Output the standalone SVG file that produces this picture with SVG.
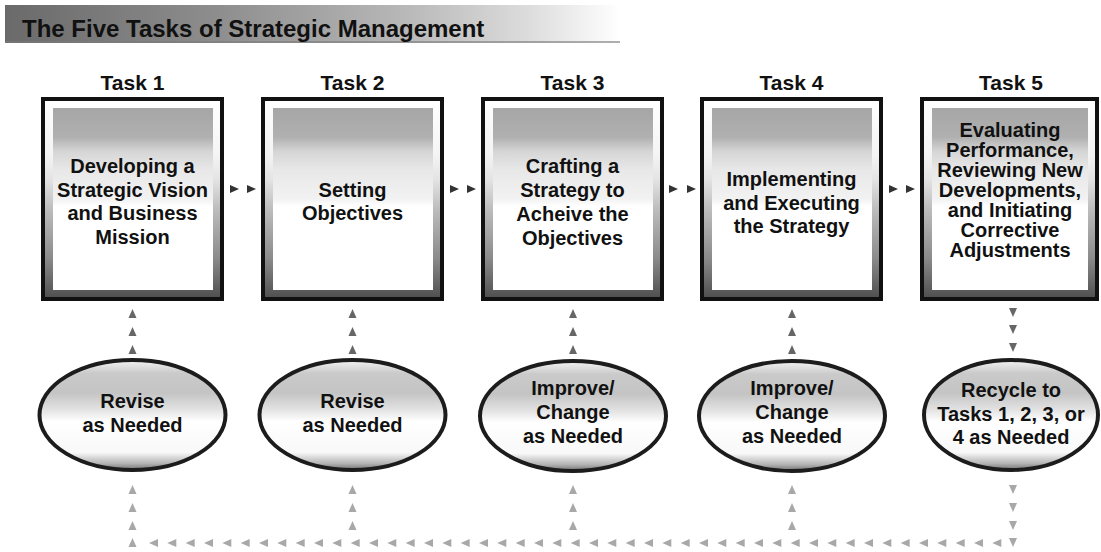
<svg xmlns="http://www.w3.org/2000/svg" width="1101" height="552" viewBox="0 0 1101 552">
<defs>
  <linearGradient id="bar" x1="0" y1="0" x2="1" y2="0">
    <stop offset="0" stop-color="#6a6a6a"/>
    <stop offset="0.35" stop-color="#8e8e8e"/>
    <stop offset="0.65" stop-color="#b8b8b8"/>
    <stop offset="0.85" stop-color="#dcdcdc"/>
    <stop offset="1" stop-color="#ffffff"/>
  </linearGradient>
  <linearGradient id="frame" x1="0" y1="0" x2="0" y2="1">
    <stop offset="0" stop-color="#ffffff"/>
    <stop offset="0.28" stop-color="#f4f4f4"/>
    <stop offset="0.4" stop-color="#e4e4e4"/>
    <stop offset="0.55" stop-color="#bdbdbd"/>
    <stop offset="0.8" stop-color="#8a8a8a"/>
    <stop offset="1" stop-color="#4e4e4e"/>
  </linearGradient>
  <linearGradient id="inner" x1="0" y1="0" x2="0" y2="1">
    <stop offset="0" stop-color="#a6a6a6"/>
    <stop offset="0.16" stop-color="#b0b0b0"/>
    <stop offset="0.24" stop-color="#d6d6d6"/>
    <stop offset="0.34" stop-color="#e8e8e8"/>
    <stop offset="0.5" stop-color="#f2f2f2"/>
    <stop offset="0.54" stop-color="#ffffff"/>
    <stop offset="1" stop-color="#ffffff"/>
  </linearGradient>
  <linearGradient id="oval" x1="0" y1="0" x2="0" y2="1">
    <stop offset="0" stop-color="#f4f4f4"/>
    <stop offset="0.12" stop-color="#cacaca"/>
    <stop offset="0.3" stop-color="#c4c4c4"/>
    <stop offset="0.45" stop-color="#e2e2e2"/>
    <stop offset="0.56" stop-color="#ffffff"/>
    <stop offset="0.84" stop-color="#f8f8f8"/>
    <stop offset="0.94" stop-color="#b4b4b4"/>
    <stop offset="1" stop-color="#707070"/>
  </linearGradient>
  <path id="up" d="M0,-5 L4,4 L-4,4 Z"/>
  <path id="down" d="M-4,-4 L4,-4 L0,5 Z"/>
  <path id="right" d="M-4,-4 L5,0 L-4,4 Z"/>
  <path id="left" d="M5,-4 L-4,0 L5,4 Z"/>
</defs>
<style>
  text { font-family: "Liberation Sans", Arial, sans-serif; font-weight: bold; fill: #111; text-anchor: middle; }
  .title { font-size: 24px; text-anchor: start; }
  .task { font-size: 21px; }
  .lbl { font-size: 20px; }
  .outer { fill: url(#frame); stroke: #111; stroke-width: 4; }
  .inner { fill: url(#inner); }
  .oval { fill: url(#oval); stroke: #1c1c1c; stroke-width: 4; }
  .dk { fill: #333; }
  .md { fill: #666; }
  .lt { fill: #a8a8a8; }
</style>
<rect width="1101" height="552" fill="#ffffff"/>

<g id="title">
  <rect x="5" y="5" width="615" height="38" fill="url(#bar)"/>
  <rect x="5" y="41" width="615" height="2" fill="#7a7a7a" opacity="0.6"/>
  <text class="title" x="22" y="37">The Five Tasks of Strategic Management</text>
</g>

<g id="task1">
  <text class="task" x="132.5" y="90">Task 1</text>
  <rect class="outer" x="43" y="99" width="179" height="200"/>
  <rect class="inner" x="53" y="108" width="160" height="182"/>
  <text class="lbl" x="132.5" y="173">Developing a</text>
  <text class="lbl" x="132.5" y="196.5">Strategic Vision</text>
  <text class="lbl" x="132.5" y="220">and Business</text>
  <text class="lbl" x="132.5" y="243.5">Mission</text>
</g>

<g id="task2">
  <text class="task" x="352.5" y="90">Task 2</text>
  <rect class="outer" x="263" y="99" width="179" height="200"/>
  <rect class="inner" x="273" y="108" width="160" height="182"/>
  <text class="lbl" x="352.5" y="197">Setting</text>
  <text class="lbl" x="352.5" y="220">Objectives</text>
</g>

<g id="task3">
  <text class="task" x="572.5" y="90">Task 3</text>
  <rect class="outer" x="483" y="99" width="179" height="200"/>
  <rect class="inner" x="493" y="108" width="160" height="182"/>
  <text class="lbl" x="572.5" y="173">Crafting a</text>
  <text class="lbl" x="572.5" y="197">Strategy to</text>
  <text class="lbl" x="572.5" y="221">Acheive the</text>
  <text class="lbl" x="572.5" y="245">Objectives</text>
</g>

<g id="task4">
  <text class="task" x="791.5" y="90">Task 4</text>
  <rect class="outer" x="702" y="99" width="179" height="200"/>
  <rect class="inner" x="712" y="108" width="160" height="182"/>
  <text class="lbl" x="791.5" y="186">Implementing</text>
  <text class="lbl" x="791.5" y="209.5">and Executing</text>
  <text class="lbl" x="791.5" y="233">the Strategy</text>
</g>

<g id="task5">
  <text class="task" x="1011" y="90">Task 5</text>
  <rect class="outer" x="922" y="99" width="175" height="200"/>
  <rect class="inner" x="932" y="108" width="156" height="182"/>
  <text class="lbl" x="1010" y="137">Evaluating</text>
  <text class="lbl" x="1010" y="157">Performance,</text>
  <text class="lbl" x="1010" y="177">Reviewing New</text>
  <text class="lbl" x="1010" y="197">Developments,</text>
  <text class="lbl" x="1010" y="217">and Initiating</text>
  <text class="lbl" x="1010" y="237">Corrective</text>
  <text class="lbl" x="1010" y="257">Adjustments</text>
</g>

<g id="revise1">
  <ellipse class="oval" cx="132.5" cy="415" rx="93" ry="55"/>
  <text class="lbl" x="132.5" y="408">Revise</text>
  <text class="lbl" x="132.5" y="432">as Needed</text>
</g>

<g id="revise2">
  <ellipse class="oval" cx="352.5" cy="415" rx="93" ry="55"/>
  <text class="lbl" x="352.5" y="408">Revise</text>
  <text class="lbl" x="352.5" y="432">as Needed</text>
</g>

<g id="improve3">
  <ellipse class="oval" cx="573" cy="416" rx="93" ry="55"/>
  <text class="lbl" x="573" y="395">Improve/</text>
  <text class="lbl" x="573" y="419">Change</text>
  <text class="lbl" x="573" y="443">as Needed</text>
</g>

<g id="improve4">
  <ellipse class="oval" cx="792" cy="416" rx="93" ry="55"/>
  <text class="lbl" x="792" y="395">Improve/</text>
  <text class="lbl" x="792" y="419">Change</text>
  <text class="lbl" x="792" y="443">as Needed</text>
</g>

<g id="recycle5">
  <ellipse class="oval" cx="1011" cy="415" rx="87" ry="55"/>
  <text class="lbl" x="1011" y="397">Recycle to</text>
  <text class="lbl" x="1011" y="420.5">Tasks 1, 2, 3, or</text>
  <text class="lbl" x="1011" y="444">4 as Needed</text>
</g>

<g id="connectors">
  <g class="dk">
    <use href="#right" x="234" y="189"/><use href="#right" x="251" y="189"/>
    <use href="#right" x="454" y="189"/><use href="#right" x="471" y="189"/>
    <use href="#right" x="673" y="189"/><use href="#right" x="691" y="189"/>
    <use href="#right" x="893" y="189"/><use href="#right" x="910" y="189"/>
  </g>
  <g class="md">
    <use href="#up" x="132.5" y="314"/><use href="#up" x="132.5" y="332"/><use href="#up" x="132.5" y="350"/>
    <use href="#up" x="352.5" y="314"/><use href="#up" x="352.5" y="332"/><use href="#up" x="352.5" y="350"/>
    <use href="#up" x="573" y="314"/><use href="#up" x="573" y="332"/><use href="#up" x="573" y="350"/>
    <use href="#up" x="792" y="314"/><use href="#up" x="792" y="332"/><use href="#up" x="792" y="350"/>
    <use href="#down" x="1013" y="312"/><use href="#down" x="1013" y="329"/><use href="#down" x="1013" y="347"/>
  </g>
  <g class="lt">
    <use href="#down" x="1013" y="489"/><use href="#down" x="1013" y="507"/><use href="#down" x="1013" y="525"/><use href="#down" x="1013" y="542"/>
    <use href="#up" x="132.5" y="490"/><use href="#up" x="132.5" y="508"/><use href="#up" x="132.5" y="526"/><use href="#up" x="132.5" y="543"/>
    <use href="#up" x="352.5" y="490"/><use href="#up" x="352.5" y="508"/><use href="#up" x="352.5" y="526"/>
    <use href="#up" x="573" y="490"/><use href="#up" x="573" y="508"/><use href="#up" x="573" y="526"/>
    <use href="#up" x="792" y="490"/><use href="#up" x="792" y="508"/><use href="#up" x="792" y="526"/>
    <use href="#left" x="153" y="543"/><use href="#left" x="171.3" y="543"/><use href="#left" x="189.7" y="543"/><use href="#left" x="208" y="543"/>
    <use href="#left" x="226.3" y="543"/><use href="#left" x="244.7" y="543"/><use href="#left" x="263" y="543"/><use href="#left" x="281.3" y="543"/>
    <use href="#left" x="299.7" y="543"/><use href="#left" x="318" y="543"/><use href="#left" x="336.3" y="543"/><use href="#left" x="354.7" y="543"/>
    <use href="#left" x="373" y="543"/><use href="#left" x="391.3" y="543"/><use href="#left" x="409.7" y="543"/><use href="#left" x="428" y="543"/>
    <use href="#left" x="446.3" y="543"/><use href="#left" x="464.7" y="543"/><use href="#left" x="483" y="543"/><use href="#left" x="501.3" y="543"/>
    <use href="#left" x="519.7" y="543"/><use href="#left" x="538" y="543"/><use href="#left" x="556.3" y="543"/><use href="#left" x="574.7" y="543"/>
    <use href="#left" x="593" y="543"/><use href="#left" x="611.3" y="543"/><use href="#left" x="629.7" y="543"/><use href="#left" x="648" y="543"/>
    <use href="#left" x="666.3" y="543"/><use href="#left" x="684.7" y="543"/><use href="#left" x="703" y="543"/><use href="#left" x="721.3" y="543"/>
    <use href="#left" x="739.7" y="543"/><use href="#left" x="758" y="543"/><use href="#left" x="776.3" y="543"/><use href="#left" x="794.7" y="543"/>
    <use href="#left" x="813" y="543"/><use href="#left" x="831.3" y="543"/><use href="#left" x="849.7" y="543"/><use href="#left" x="868" y="543"/>
    <use href="#left" x="886.3" y="543"/><use href="#left" x="904.7" y="543"/><use href="#left" x="923" y="543"/><use href="#left" x="941.3" y="543"/>
    <use href="#left" x="959.7" y="543"/><use href="#left" x="978" y="543"/><use href="#left" x="996.3" y="543"/>
  </g>
</g>
</svg>
